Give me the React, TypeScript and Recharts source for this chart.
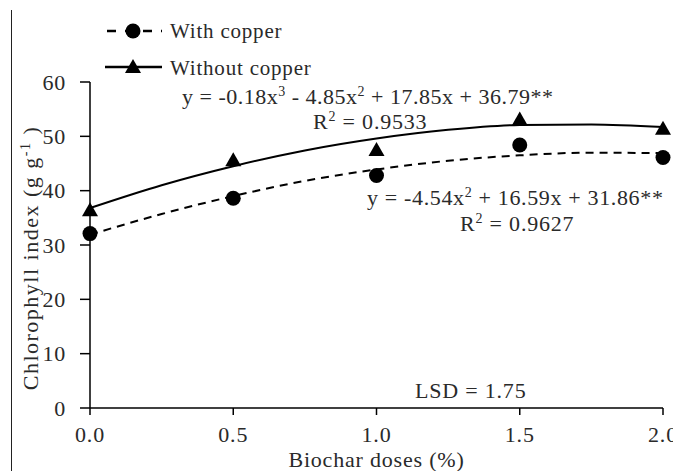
import { ComposedChart, Line, Scatter, XAxis, YAxis } from "recharts";

// observed means
const doses = [0, 0.5, 1, 1.5, 2];
const withCopper = [32.1, 38.6, 42.8, 48.4, 46.1];
const withoutCopper = [36.4, 45.6, 47.5, 53.1, 51.4];

// fitted curves
const fitDoses = [0, 0.25, 0.5, 0.75, 1, 1.25, 1.5, 1.75, 2];
const withCopperFit = [31.9, 35.7, 39.0, 41.8, 43.9, 45.5, 46.5, 47.0, 46.9];
const withoutCopperFit = [36.8, 41.0, 44.5, 47.4, 49.6, 51.2, 52.1, 52.2, 51.7];

const xTicks = [0, 0.5, 1, 1.5, 2];
const yTicks = [0, 10, 20, 30, 40, 50, 60];

const FONT = "'Liberation Serif', 'Times New Roman', serif";
const FS = 22;
const LS = 0.8;
const INK = "#2a2a2a";

const pts = (ys: number[]) => doses.map((x, i) => ({ x, y: ys[i] }));
const fit = (ys: number[]) => fitDoses.map((x, i) => ({ x, y: ys[i] }));

const Dot = (p: any) => <circle cx={p.cx} cy={p.cy} r={7.5} fill="#000" />;
const Tri = (p: any) => (
  <polygon points={`${p.cx},${p.cy - 8} ${p.cx - 8},${p.cy + 6} ${p.cx + 8},${p.cy + 6}`} fill="#000" />
);

const txt = { fontFamily: FONT, fontSize: FS, letterSpacing: LS, fill: INK };

const XTick = (p: any) => (
  <text x={p.x} y={p.y + 25} textAnchor="middle" {...txt}>
    {Number(p.payload.value).toFixed(1)}
  </text>
);
const YTick = (p: any) => (
  <text x={p.x - 12} y={p.y + 7.5} textAnchor="end" {...txt}>
    {p.payload.value}
  </text>
);

const Sup = ({ t }: { t: string }) => (
  <>
    <tspan dy={-8} fontSize={14}>{t}</tspan>
    <tspan dy={8}> </tspan>
  </>
);

function YLabel(props: any) {
  const { viewBox } = props;
  const cy = viewBox.y + viewBox.height / 2 + 13;
  return (
    <text transform={`translate(38, ${cy}) rotate(-90)`} textAnchor="middle" {...txt} letterSpacing={1.5}>
      Chlorophyll index (g g<tspan dy={-8} fontSize={14}>-1</tspan>
      <tspan dy={8}> )</tspan>
    </text>
  );
}

function XLabel(props: any) {
  const { viewBox } = props;
  return (
    <text x={viewBox.x + viewBox.width / 2} y={viewBox.y + 59} textAnchor="middle" {...txt}>
      Biochar doses (%)
    </text>
  );
}

function Annotations() {
  return (
    <svg width={681} height={471} style={{ position: "absolute", left: 0, top: 0, pointerEvents: "none" }}>
      {/* legend */}
      <line x1={105} y1={31} x2={162} y2={31} stroke="#000" strokeWidth={2.5} strokeDasharray="9 9" strokeDashoffset={-2} />
      <circle cx={133} cy={31} r={7.5} fill="#000" />
      <text x={170} y={38} {...txt} fontSize={21}>With copper</text>
      <line x1={105} y1={67} x2={162} y2={67} stroke="#000" strokeWidth={2.5} />
      <polygon points="133,59 125,73 141,73" fill="#000" />
      <text x={170} y={75} {...txt} fontSize={21}>Without copper</text>

      {/* fitted equations */}
      <text x={182} y={104} {...txt} letterSpacing={0.5}>
        y = -0.18x<Sup t="3" />- 4.85x<Sup t="2" />+ 17.85x + 36.79**
      </text>
      <text x={313} y={129} {...txt}>
        R<Sup t="2" />= 0.9533
      </text>
      <text x={367} y={205} {...txt} letterSpacing={0.65}>
        y = -4.54x<Sup t="2" />+ 16.59x + 31.86**
      </text>
      <text x={460} y={231} {...txt}>
        R<Sup t="2" />= 0.9627
      </text>
      <text x={415} y={398} {...txt}>
        LSD = 1.75
      </text>
    </svg>
  );
}

export default function App() {
  return (
    <div style={{ position: "relative", margin: "-8px -8px 0 -8px", width: 681, height: 471, background: "#fff", overflow: "hidden" }}>
      <div style={{ position: "absolute", left: 11, top: 10, width: 0, height: 461, borderLeft: "1.5px solid #222" }} />
      <ComposedChart width={681} height={471} margin={{ top: 82, right: 18, bottom: 33, left: 30 }}>
        <XAxis
          type="number"
          dataKey="x"
          domain={[0, 2]}
          ticks={xTicks}
          height={30}
          axisLine={{ stroke: "#000", strokeWidth: 1.5 }}
          tickLine={{ stroke: "#000", strokeWidth: 1.5 }}
          tickSize={7}
          tick={<XTick />}
          label={<XLabel />}
          allowDuplicatedCategory={false}
        />
        <YAxis
          type="number"
          dataKey="y"
          domain={[0, 60]}
          ticks={yTicks}
          width={60}
          axisLine={{ stroke: "#000", strokeWidth: 1.5 }}
          tickLine={{ stroke: "#000", strokeWidth: 1.5 }}
          tickSize={10}
          tick={<YTick />}
          label={<YLabel />}
        />
        <Line data={fit(withCopperFit)} dataKey="y" type="monotone" stroke="#000" strokeWidth={2} strokeDasharray="8 6" dot={false} isAnimationActive={false} />
        <Line data={fit(withoutCopperFit)} dataKey="y" type="monotone" stroke="#000" strokeWidth={2} dot={false} isAnimationActive={false} />
        <Scatter data={pts(withCopper)} dataKey="y" shape={Dot} isAnimationActive={false} />
        <Scatter data={pts(withoutCopper)} dataKey="y" shape={Tri} isAnimationActive={false} />
      </ComposedChart>
      <Annotations />
    </div>
  );
}
